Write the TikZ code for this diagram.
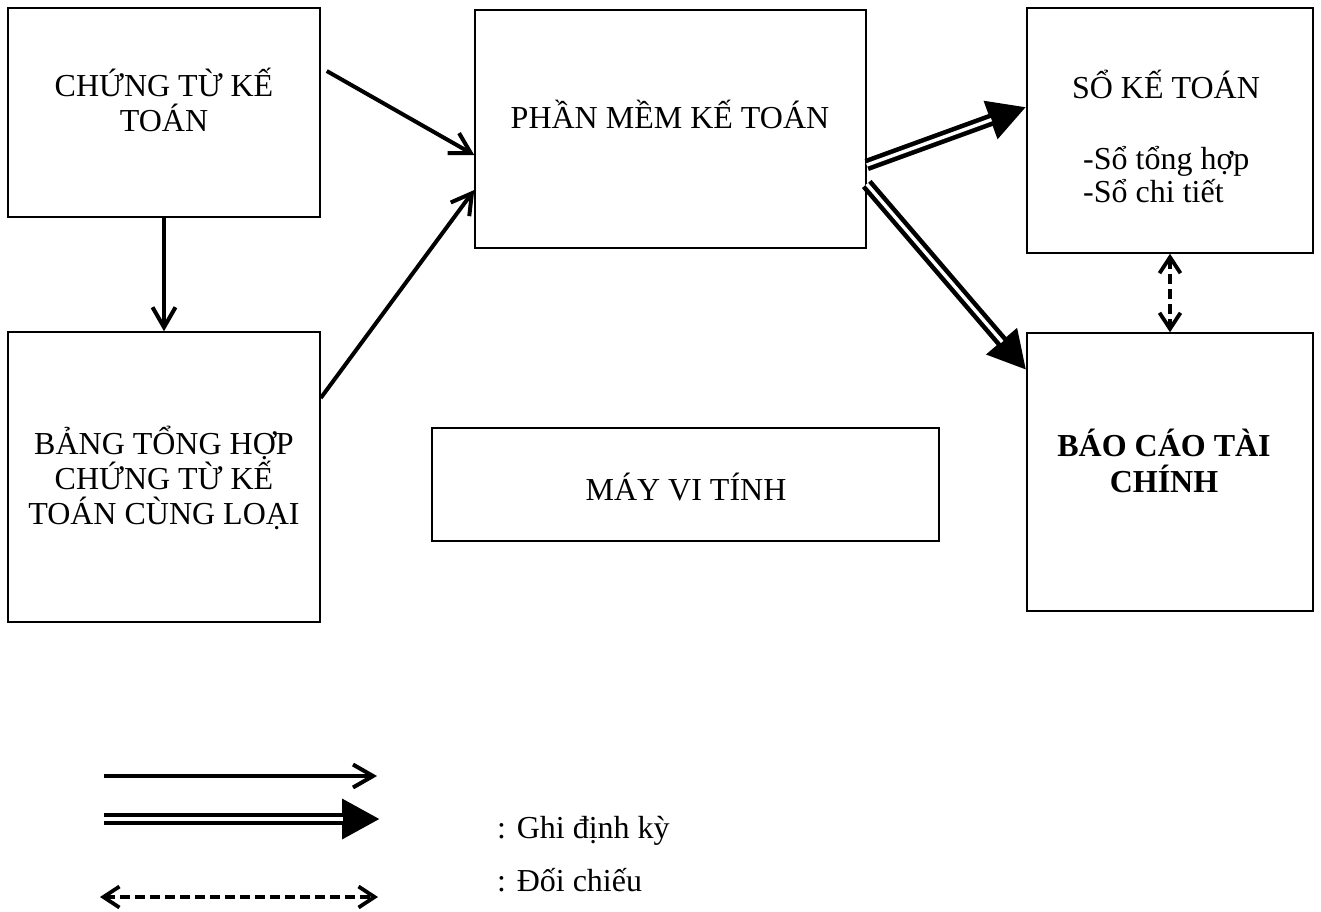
\documentclass[tikz,border=0pt]{standalone}
\usepackage{fontspec}
\setmainfont{Liberation Serif}
\usetikzlibrary{arrows.meta,calc}

\begin{document}
\begin{tikzpicture}[x=1pt,y=-1pt,
  box/.style={draw,line width=1.5pt,inner sep=0pt},
  lbl/.style={font=\fontsize{32}{35}\selectfont,align=center,inner sep=0pt},
  flow/.style={line width=4pt,-{Straight Barb[length=20pt,width=23pt]}},
  % double-stroke arrow: wide black stroke with a white core, filled triangle tip
  post/.style={line width=12.6pt,-{Triangle[length=38pt,width=38pt]},
    postaction={draw=white,line width=3.4pt,-,shorten >=37pt}},
  check/.style={line width=3.8pt,dash pattern=on 10pt off 5pt,
    {Straight Barb[length=16pt,width=21pt]}-{Straight Barb[length=16pt,width=21pt]}}]

  \useasboundingbox (0,0) rectangle (1321,911);

  % boxes
  \node[box,minimum width=312pt,minimum height=209pt] (A) at (164,112.5) {};
  \node[box,minimum width=312pt,minimum height=290pt] (B) at (164,477) {};
  \node[box,minimum width=391pt,minimum height=238pt] (C) at (670.5,129) {};
  \node[box,minimum width=507pt,minimum height=113pt] (D) at (685.5,484.5) {};
  \node[box,minimum width=286pt,minimum height=245pt] (E) at (1170,130.5) {};
  \node[box,minimum width=286pt,minimum height=278pt] (F) at (1170,472) {};

  % box texts
  \node[lbl] (tA) at (164,100) {CHỨNG TỪ KẾ\\TOÁN};
  \node[lbl] (tB) at (164,478) {BẢNG TỔNG HỢP\\CHỨNG TỪ KẾ\\TOÁN CÙNG LOẠI};
  \node[lbl] (tC) at (670,114) {PHẦN MỀM KẾ TOÁN};
  \node[lbl] (tD) at (686,487) {MÁY VI TÍNH};
  \node[lbl] (tE) at (1166,84) {SỔ KẾ TOÁN};
  \node[lbl,align=left,anchor=west,font=\fontsize{32}{33}\selectfont] (tE2) at (1083,175) {-Sổ tổng hợp\\-Sổ chi tiết};
  \node[lbl,font=\fontsize{32}{36}\bfseries\selectfont] (tF) at (1164,461) {BÁO CÁO TÀI\\CHÍNH};

  % connectors
  \draw[flow] ($(A.east)+(6,-41.5)$) -- ($(C.west)+(0,26)$);
  \draw[flow] ($(B.east)+(0,-79)$) -- ($(C.west)+(0,61)$);
  \draw[flow] (A.south) -- (B.north);
  \draw[post] ($(C.east)+(0,36)$) -- ($(E.west)+(0,-23.5)$);
  \draw[post] ($(C.east)+(0,55)$) -- ($(F.west)+(0,-102)$);
  \draw[check] (E.south) -- (F.north);

  % legend
  \coordinate (l1a) at (104,776); \coordinate (l1b) at (377,776);
  \coordinate (l2a) at (104,819); \coordinate (l2b) at (380,819);
  \coordinate (l3a) at (100,897); \coordinate (l3b) at (378,897);
  \draw[flow] (l1a) -- (l1b);
  \draw[post] (l2a) -- (l2b);
  \draw[check] (l3a) -- (l3b);
  \node[lbl,anchor=base west] (g1) at (497,838) {: Ghi định kỳ};
  \node[lbl,anchor=base west] (g2) at (497,891) {: Đối chiếu};
\end{tikzpicture}
\end{document}
